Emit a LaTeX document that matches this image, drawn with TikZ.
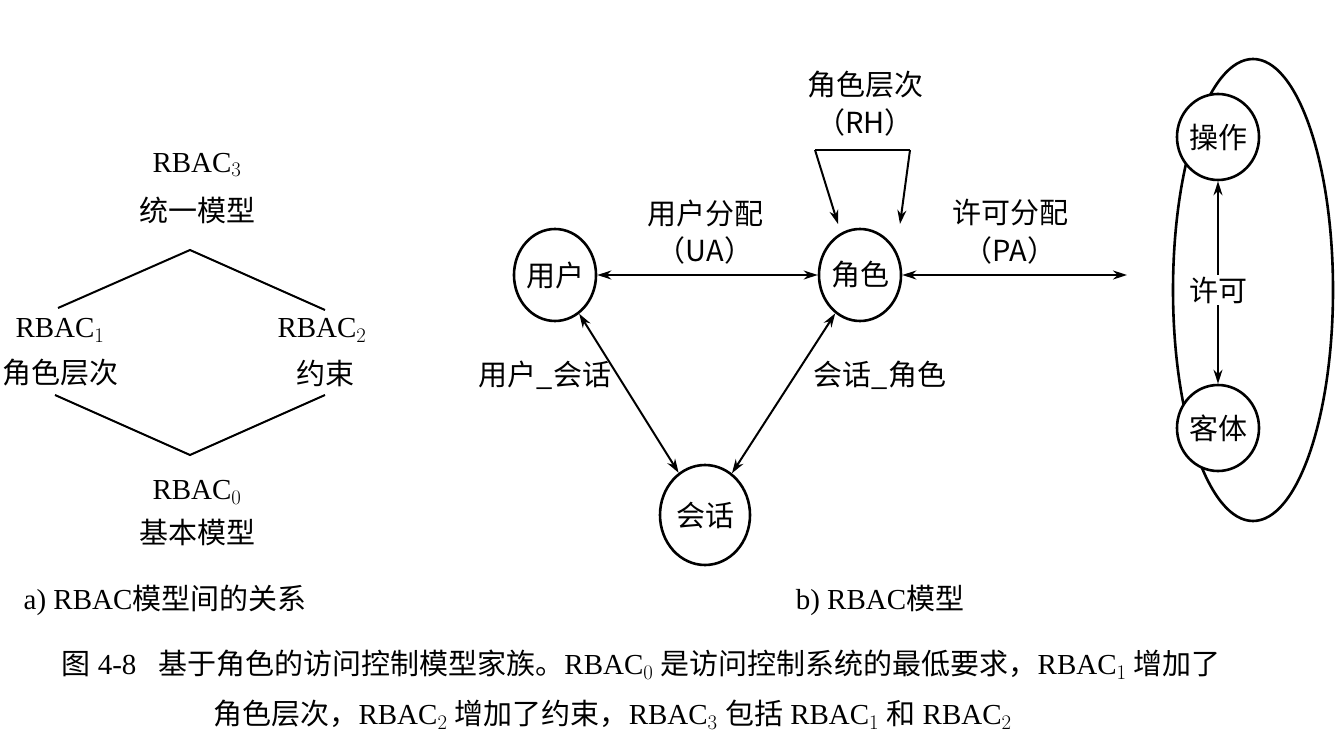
\documentclass[tikz,border=0pt]{standalone}
\usepackage{fontspec}
\setmainfont{Liberation Serif}
\newfontfamily\cjk{Noto Sans CJK SC}
\usetikzlibrary{arrows.meta,shapes.geometric}
\begin{document}
\begin{tikzpicture}[x=1pt,y=-1pt,
  lab/.style={font=\fontsize{29}{32}\selectfont},
  circ/.style={draw,fill=white,line width=2.6pt,ellipse,inner sep=0pt,minimum width=80pt,minimum height=92pt,font=\fontsize{29}{32}\selectfont\cjk},
  dbl/.style={line width=2pt,{Stealth[length=14pt,width=9pt]}-{Stealth[length=14pt,width=9pt]}},
  ln/.style={line width=2pt}]
\useasboundingbox (0,0) rectangle (1338,751);
% left
\node[lab] (r3) at (197,165) {RBAC$_3$};
\node[lab] (r3t) at (197,210) {\cjk 统一模型};
\node[lab] (r1) at (60,330) {RBAC$_1$};
\node[lab] (r1t) at (60,373) {\cjk 角色层次};
\node[lab] (r2) at (322,330) {RBAC$_2$};
\node[lab] (r2t) at (325,373) {\cjk 约束};
\node[lab] (r0) at (197,492) {RBAC$_0$};
\node[lab] (r0t) at (197,532) {\cjk 基本模型};
\coordinate (t) at (190,250); \coordinate (b) at (190,455);
\draw[ln] (58,308) -- (t) -- (325,310);
\draw[ln] (55,395) -- (b) -- (325,395);
\node[lab] (ca) at (165,600) {a) RBAC{\cjk 模型间的关系}};
% right
\node[draw,line width=2.6pt,ellipse,minimum width=160pt,minimum height=462pt] (big) at (1253,290) {};
\node[circ] (u) at (555,275) {用户};
\node[circ] (r) at (860,275) {角色};
\node[circ,minimum width=90pt,minimum height=100pt] (s) at (705,515) {会话};
\node[circ,minimum width=74pt,minimum height=86pt] (op) at (1218,137) {操作};
\node[circ,minimum width=74pt,minimum height=86pt] (ob) at (1218,428) {客体};
\coordinate (pe) at (1127,275);
\draw[dbl] (u) -- (r);
\draw[dbl] (r) -- (pe);
\draw[dbl] (op) -- (ob);
\node[lab,fill=white,inner sep=2pt] (perm) at (1218,290) {\cjk 许可};
\draw[dbl] (u) -- (s);
\draw[dbl] (r) -- (s);
\coordinate (h1) at (815,150); \coordinate (h2) at (910,150);
\draw[ln] (h1) -- (h2);
\draw[ln,-{Stealth[length=14pt,width=9pt]}] (h1) -- (838,224);
\draw[ln,-{Stealth[length=14pt,width=9pt]}] (h2) -- (900,224);
\node[lab] (rh1) at (865,85) {\cjk 角色层次};
\node[lab] (rh2) at (865,122) {\cjk （RH）};
\node[lab] (ua1) at (705,213) {\cjk 用户分配};
\node[lab] (ua2) at (705,250) {\cjk （UA）};
\node[lab] (pa1) at (1010,213) {\cjk 许可分配};
\node[lab] (pa2) at (1010,250) {\cjk （PA）};
\node[lab] (us) at (545,375) {\cjk 用户\_会话};
\node[lab] (sr) at (880,375) {\cjk 会话\_角色};
\node[lab] (cb) at (880,600) {b) RBAC{\cjk 模型}};
% caption
\node[lab,anchor=west] (c1) at (58,665) {{\cjk 图} 4-8\hspace{22pt}{\cjk 基于角色的访问控制模型家族。}RBAC$_0$ {\cjk 是访问控制系统的最低要求，}RBAC$_1$ {\cjk 增加了}};
\node[lab,anchor=west] (c2) at (210,715) {{\cjk 角色层次，}RBAC$_2$ {\cjk 增加了约束，}RBAC$_3$ {\cjk 包括} RBAC$_1$ {\cjk 和} RBAC$_2$};
\end{tikzpicture}
\end{document}
